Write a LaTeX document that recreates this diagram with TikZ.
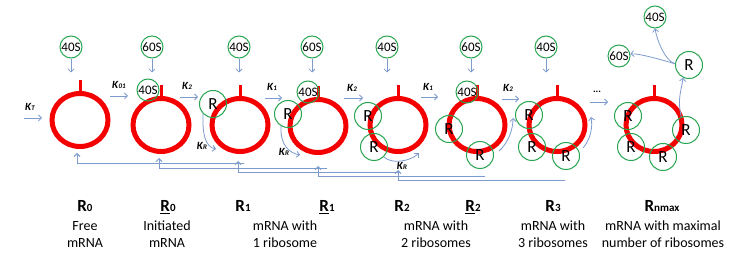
\documentclass[tikz,border=0pt]{standalone}
\usepackage{fontspec}
\setmainfont{Carlito}
\usetikzlibrary{arrows.meta,shapes.geometric}
\definecolor{ringred}{RGB}{245,0,0}
\definecolor{ribgreen}{RGB}{40,165,80}
\definecolor{arrblue}{RGB}{125,155,205}
\newcommand{\myK}[1]{K\kern0.4pt{\fontsize{7}{7}\selectfont #1}}
\newcommand{\myR}[1]{R{\fontsize{11}{11}\selectfont #1}}
\newcommand{\myRu}[1]{\underline{R}{\fontsize{11}{11}\selectfont #1}}
\tikzset{
 ring/.style={ellipse, draw=ringred, line width=5pt, minimum width=56pt, minimum height=53pt, inner sep=0pt},
 rbar/.style={draw=ringred, line width=3pt},
 sub/.style={circle, draw=ribgreen, line width=1pt, minimum size=22pt, inner sep=0pt, font=\fontsize{13}{13}\selectfont},
 rib/.style={circle, draw=ribgreen, line width=1pt, minimum size=27pt, inner sep=0pt, font=\fontsize{17}{17}\selectfont},
 arr/.style={draw=arrblue, line width=0.8pt, -{Straight Barb[length=3pt,width=6pt]}},
 fb/.style={arr, line width=1pt},
 klab/.style={font=\fontsize{11}{11}\selectfont\bfseries\itshape, inner sep=0pt},
 rlab/.style={font=\fontsize{17}{17}\selectfont\bfseries, inner sep=0pt, anchor=base},
 dlab/.style={font=\fontsize{14}{17}\selectfont, align=center, inner sep=0pt, anchor=north},
}
\begin{document}
\begin{tikzpicture}[x=1pt,y=-1pt]
\fill[white] (0,0) rectangle (749,264);
\useasboundingbox (0,0) rectangle (749,264);

% rings
\foreach \n/\x/\y in {1/80/120,2/161/125,3/240/125,4/318/126,5/398/125,6/477/125,7/557/125,8/654/125}{
  \node[ring] (c\n) at (\x,\y) {};
  \draw[rbar] ([yshift=-1pt]c\n.north) -- ++(0,-12);
}

% top subunits and arrows
\foreach \n/\x/\t in {1/71/40S,2/152/60S,3/239/40S,4/312/60S,5/387/40S,6/471/60S,7/546/40S}{
  \node[sub] (t\n) at (\x,47) {\t};
  \draw[arr] ([yshift=-1pt]t\n.south) -- ++(0,13);
}

% attached 40S
\node[sub] (a2) at (148,90) {40S};
\node[sub] (a4) at (308,92) {40S};
\node[sub] (a6) at (467,92) {40S};

% ribosomes
\node[rib] (rA) at (213,104) {R};
\node[rib] (rB) at (288,114) {R};
\node[rib] (rC1) at (368,116) {R};
\node[rib] (rC2) at (374,147) {R};
\node[rib] (rD1) at (449,129) {R};
\node[rib] (rD2) at (480,155) {R};
\node[rib] (rE1) at (529,115) {R};
\node[rib] (rE2) at (532,147) {R};
\node[rib] (rE3) at (566,156) {R};
\node[rib] (rF1) at (628,116) {R};
\node[rib] (rF2) at (631,147) {R};
\node[rib] (rF3) at (663,157) {R};
\node[rib] (rF4) at (686,130) {R};
\node[rib] (rel) at (689,65) {R};
\node[sub] (s60) at (619,56) {60S};
\node[sub] (s40) at (655,17) {40S};

% release arrows
\draw[arr] (rF4.110) .. controls +(-4,-18) and +(-2,14) .. (rel.245);
\draw[arr] (rel.175) .. controls +(-10,-3) and +(2,12) .. (s40.south);
\draw[arr] (rel.175) .. controls +(-10,-3) and +(8,-1) .. (s60.10);

% rate arrows and labels
\foreach \xa/\xb/\y/\lx/\ly/\k in {24/42/118/30/107/T,110/128/96/119/85/01,180/198/97/187/86/2,265/282/98/272/87/1,344/363/98/352/88/2,421/438/97/428/87/1,502/519/99/508/88/2}{
  \draw[arr] (\xa,\y) -- (\xb,\y);
  \node[klab] at (\lx,\ly) {\myK{\k}};
}
\draw[arr] (590,102) -- (608,102);
\node[font=\fontsize{10}{10}\selectfont\bfseries, inner sep=0pt] (dots) at (597,92) {...};

% K_R loops
\draw[arr] (rA.225) .. controls +(-1,22) and +(-10,-2) .. (216,149);
\node[klab] (kr1) at (202,146) {\myK{R}};
\draw[arr] (rB.240) .. controls +(-1,20) and +(-10,-2) .. (300,155);
\node[klab] (kr2) at (284,152) {\myK{R}};
\draw[arr] (rC2.315) .. controls +(8,8) and +(-8,8) .. (419,153);
\node[klab] (kr3) at (402,166) {\myK{R}};
\draw[arr] (499,151) .. controls (508,143) and (513,130) .. (513,118);
\draw[arr] (583,148) .. controls (590,140) and (593,128) .. (591,117);

% feedback lines
\draw[fb] (244,164) -- (77,164) -- ++(0,-11);
\draw[fb] (327,169) -- (159,169) -- ++(0,-11);
\draw[fb] (400,173) -- (238,173) -- ++(0,-12);
\draw[fb] (485,177) -- (318,177) -- ++(0,-11);
\draw[fb] (565,181) -- (398,181) -- ++(0,-11);

% bottom labels
\node[rlab] (L1) at (85,212) {\myR{0}};
\node[rlab] (L2) at (168,212) {\myRu{0}};
\node[rlab] (L3) at (243,212) {\myR{1}};
\node[rlab] (L4) at (327,212) {\myRu{1}};
\node[rlab] (L5) at (402,212) {\myR{2}};
\node[rlab] (L6) at (473,212) {\myRu{2}};
\node[rlab] (L7) at (553,212) {\myR{3}};
\node[rlab] (L8) at (662,212) {\myR{nmax}};

\node[dlab] (D1) at (85,221) {Free\\mRNA};
\node[dlab] (D2) at (167,221) {Initiated\\mRNA};
\node[dlab] (D3) at (285,221) {mRNA with\\1 ribosome};
\node[dlab] (D4) at (436,221) {mRNA with\\2 ribosomes};
\node[dlab] (D5) at (553,221) {mRNA with\\3 ribosomes};
\node[dlab] (D6) at (663,221) {mRNA with maximal\\number of ribosomes};
\end{tikzpicture}
\end{document}
